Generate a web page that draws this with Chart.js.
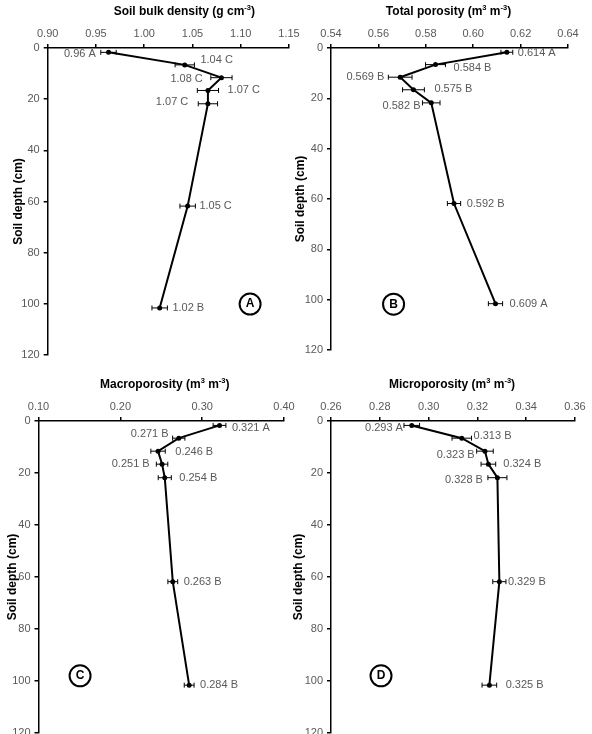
<!DOCTYPE html>
<html>
<head>
<meta charset="utf-8">
<script src="https://cdn.jsdelivr.net/npm/chart.js@4.4.1/dist/chart.umd.min.js"></script>
<style>
html, body { margin: 0; padding: 0; background: #fff; overflow: hidden; width: 592px; height: 734px; }
canvas { position: absolute; }
</style>
</head>
<body>
<canvas id="chartA" width="305" height="367" style="left:0;top:0"></canvas>
<canvas id="chartB" width="306" height="367" style="left:286px;top:0"></canvas>
<canvas id="chartC" width="300" height="377" style="left:0;top:367px"></canvas>
<canvas id="chartD" width="306" height="377" style="left:286px;top:367px"></canvas>
<script>
// soil depth of each sampling layer (cm)
const depth = [1.7, 6.6, 11.6, 16.6, 21.8, 61.8, 101.6];
const depthTicks = [0, 20, 40, 60, 80, 100, 120];

const bulkDensity = [0.963, 1.042, 1.080, 1.066, 1.066, 1.045, 1.016];
const bulkDensityErr = [0.008, 0.010, 0.011, 0.011, 0.010, 0.008, 0.008];
const bulkDensityLabels = ['0.96 A', '1.04 C', '1.08 C', '1.07 C', '1.07 C', '1.05 C', '1.02 B'];
const bulkDensityTicks = [0.90, 0.95, 1.00, 1.05, 1.10, 1.15];

const totalPorosity = [0.6142, 0.5841, 0.5692, 0.5748, 0.5823, 0.5919, 0.6094];
const totalPorosityErr = [0.0025, 0.0042, 0.0050, 0.0046, 0.0037, 0.0028, 0.0030];
const totalPorosityLabels = ['0.614 A', '0.584 B', '0.569 B', '0.575 B', '0.582 B', '0.592 B', '0.609 A'];
const totalPorosityTicks = [0.54, 0.56, 0.58, 0.60, 0.62, 0.64];

const macroporosity = [0.3212, 0.2714, 0.2461, 0.2510, 0.2543, 0.2641, 0.2841];
const macroporosityErr = [0.0078, 0.0075, 0.0088, 0.0070, 0.0080, 0.0060, 0.0060];
const macroporosityLabels = ['0.321 A', '0.271 B', '0.246 B', '0.251 B', '0.254 B', '0.263 B', '0.284 B'];
const macroporosityTicks = [0.10, 0.20, 0.30, 0.40];

const microporosity = [0.2931, 0.3136, 0.3231, 0.3245, 0.3282, 0.3290, 0.3249];
const microporosityErr = [0.0032, 0.0040, 0.0034, 0.0030, 0.0039, 0.0027, 0.0030];
const microporosityLabels = ['0.293 A', '0.313 B', '0.323 B', '0.324 B', '0.328 B', '0.329 B', '0.325 B'];
const microporosityTicks = [0.26, 0.28, 0.30, 0.32, 0.34, 0.36];

const FONT = "Arial, 'Liberation Sans', sans-serif";
const GREY = '#595959';

// error bars, value labels, panel title and the circled letter
const panelExtras = {
    id: 'panelExtras',
    afterDatasetsDraw(chart, args, opts) {
        const ctx = chart.ctx;
        const xs = chart.scales.x, ys = chart.scales.y;
        const pts = chart.data.datasets[0].data;
        ctx.save();
        ctx.strokeStyle = '#000';
        ctx.lineWidth = 1;
        ctx.font = '11px ' + FONT;
        ctx.textBaseline = 'middle';
        pts.forEach((p, i) => {
            const y = ys.getPixelForValue(p.y);
            const x1 = xs.getPixelForValue(p.x - opts.err[i]);
            const x2 = xs.getPixelForValue(p.x + opts.err[i]);
            ctx.beginPath();
            ctx.moveTo(x1, y); ctx.lineTo(x2, y);
            ctx.moveTo(x1, y - 2.5); ctx.lineTo(x1, y + 2.5);
            ctx.moveTo(x2, y - 2.5); ctx.lineTo(x2, y + 2.5);
            ctx.stroke();

            const gap = opts.labelDx[i];
            const ly = y + opts.labelDy[i];
            ctx.fillStyle = GREY;
            if (gap < 0) {
                ctx.textAlign = 'right';
                ctx.fillText(opts.labels[i], x1 + gap, ly);
            } else {
                ctx.textAlign = 'left';
                ctx.fillText(opts.labels[i], x2 + gap, ly);
            }
        });

        // title with superscripts
        const big = 'bold 12px ' + FONT, small = 'bold 7.5px ' + FONT;
        let total = 0;
        opts.title.forEach(s => {
            ctx.font = Array.isArray(s) ? small : big;
            total += ctx.measureText(Array.isArray(s) ? s[0] : s).width;
        });
        const area = chart.chartArea;
        let tx = (area.left + area.right) / 2 + opts.titleDx - total / 2;
        const ty = area.top - 36;
        ctx.fillStyle = '#000';
        ctx.textAlign = 'left';
        opts.title.forEach(s => {
            const sup = Array.isArray(s);
            const t = sup ? s[0] : s;
            ctx.font = sup ? small : big;
            ctx.fillText(t, tx, sup ? ty - 4 : ty);
            tx += ctx.measureText(t).width;
        });

        // circled panel letter
        const bx = xs.getPixelForValue(opts.badge.x);
        const by = ys.getPixelForValue(opts.badge.y);
        ctx.beginPath();
        ctx.lineWidth = 2;
        ctx.arc(bx, by, 10.5, 0, Math.PI * 2);
        ctx.stroke();
        ctx.font = 'bold 12px ' + FONT;
        ctx.textAlign = 'center';
        ctx.fillText(opts.badge.text, bx, by);
        ctx.restore();
    }
};

function makePanel(id, values, cfg) {
    const ctx = document.getElementById(id);
    return new Chart(ctx, {
        type: 'scatter',
        data: {
            datasets: [{
                data: values.map((v, i) => ({ x: v, y: depth[i] })),
                showLine: true,
                borderColor: '#000',
                borderWidth: 2,
                pointRadius: 2.5,
                pointBackgroundColor: '#000',
                pointBorderColor: '#000',
                pointBorderWidth: 0,
                tension: 0
            }]
        },
        plugins: [panelExtras],
        options: {
            responsive: false,
            animation: false,
            layout: { padding: cfg.padding },
            plugins: {
                legend: { display: false },
                tooltip: { enabled: false },
                panelExtras: cfg.extras
            },
            scales: {
                x: {
                    type: 'linear',
                    position: 'top',
                    min: cfg.ticks[0],
                    max: cfg.ticks[cfg.ticks.length - 1],
                    afterBuildTicks: s => { s.ticks = cfg.ticks.map(v => ({ value: v })); },
                    afterFit: s => { s.height = 28; },
                    ticks: {
                        color: GREY,
                        font: { family: FONT, size: 11 },
                        padding: 3,
                        maxRotation: 0,
                        callback: v => v.toFixed(2)
                    },
                    grid: { drawOnChartArea: false, drawTicks: true, tickLength: 4, color: '#000', lineWidth: 1.5 },
                    border: { display: true, color: '#000', width: 1.5 }
                },
                y: {
                    type: 'linear',
                    reverse: true,
                    min: 0,
                    max: 120,
                    afterBuildTicks: s => { s.ticks = depthTicks.map(v => ({ value: v })); },
                    afterFit: s => { s.width = cfg.yWidth; },
                    ticks: {
                        color: GREY,
                        font: { family: FONT, size: 11 },
                        padding: 4
                    },
                    grid: { drawOnChartArea: false, drawTicks: true, tickLength: 4, color: '#000', lineWidth: 1.5 },
                    border: { display: true, color: '#000', width: 1.5 },
                    title: {
                        display: true,
                        text: 'Soil depth (cm)',
                        color: '#000',
                        font: { family: FONT, size: 12, weight: 'bold' },
                        padding: { top: cfg.yTitlePad, bottom: 0 }
                    }
                }
            }
        }
    });
}

makePanel('chartA', bulkDensity, {
    ticks: bulkDensityTicks,
    yWidth: 47.7,
    yTitlePad: 11,
    padding: { left: 0, top: 20, right: 16, bottom: 12 },
    extras: {
        err: bulkDensityErr,
        labels: bulkDensityLabels,
        labelDx: [-5, 6, -8, 9, -10, 4, 5],
        labelDy: [1.5, -5, 1, 0, -1.5, 0, 0],
        title: ['Soil bulk density (g cm', ['-3'], ')'],
        titleDx: 16,
        badge: { x: 1.1097, y: 100.1, text: 'A' }
    }
});

makePanel('chartB', totalPorosity, {
    ticks: totalPorosityTicks,
    yWidth: 45,
    yTitlePad: 7,
    padding: { left: 0, top: 20, right: 24, bottom: 17 },
    extras: {
        err: totalPorosityErr,
        labels: totalPorosityLabels,
        labelDx: [5, 8, -4, 10, -2, 6, 7],
        labelDy: [1, 3, 0, -0.7, 3, 0, 0],
        title: ['Total porosity (m', ['3'], ' m', ['-3'], ')'],
        titleDx: -1,
        badge: { x: 0.5664, y: 101.8, text: 'B' }
    }
});

makePanel('chartC', macroporosity, {
    ticks: macroporosityTicks,
    yWidth: 38.5,
    yTitlePad: 5,
    padding: { left: 0, top: 26, right: 16, bottom: 11 },
    extras: {
        err: macroporosityErr,
        labels: macroporosityLabels,
        labelDx: [6, -4, 10, -6.7, 8, 6, 6],
        labelDy: [3, -4, 1, 0, 0, 0, 0],
        title: ['Macroporosity (m', ['3'], ' m', ['-3'], ')'],
        titleDx: 3.5,
        badge: { x: 0.1508, y: 98, text: 'C' }
    }
});

makePanel('chartD', microporosity, {
    ticks: microporosityTicks,
    yWidth: 45,
    yTitlePad: 5,
    padding: { left: 0, top: 26, right: 17, bottom: 11 },
    extras: {
        err: microporosityErr,
        labels: microporosityLabels,
        labelDx: [-1, 2, -2, 7.6, -5, 2, 9],
        labelDy: [2.6, -2, 3.6, 0, 2, 0, 0],
        title: ['Microporosity (m', ['3'], ' m', ['-3'], ')'],
        titleDx: -1,
        badge: { x: 0.2805, y: 98, text: 'D' }
    }
});
</script>
</body>
</html>
